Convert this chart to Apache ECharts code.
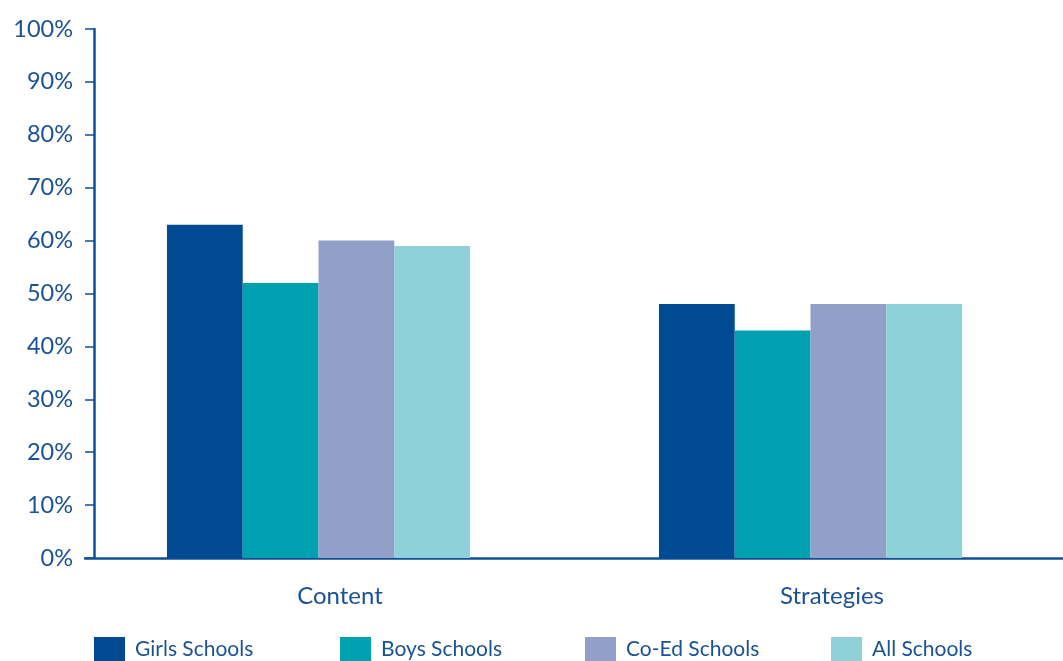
<!DOCTYPE html>
<html>
<head>
<meta charset="utf-8">
<script src="https://cdn.jsdelivr.net/npm/echarts@6/dist/echarts.min.js"></script>
<style>
  html, body { margin: 0; padding: 0; background: #ffffff; }
  #chart { width: 1063px; height: 661px; }
</style>
</head>
<body>
<div id="chart"></div>
<script>
// Share of schools, by focus area and school type
const categories = ['Content', 'Strategies'];
const seriesNames = ['Girls Schools', 'Boys Schools', 'Co-Ed Schools', 'All Schools'];
const girlsSchools = [63, 48];
const boysSchools = [52, 43];
const coEdSchools = [60, 48];
const allSchools = [59, 48];
const yTicks = [0, 10, 20, 30, 40, 50, 60, 70, 80, 90, 100];

const colors = ['#004a91', '#00a1b0', '#919fc9', '#8fd1d9'];
const ink = '#1b5294';
const axisBlue = '#0f4f95';
const font = 'Lato';

const values = [girlsSchools, boysSchools, coEdSchools, allSchools];
const legendLefts = [94, 340, 585, 831];

const chart = echarts.init(document.getElementById('chart'), null, { renderer: 'canvas' });

chart.setOption({
  animation: false,
  backgroundColor: '#ffffff',
  grid: [
    { left: 72.5, right: 6.5, top: 29, bottom: 103 },
    { left: 85, right: 0, top: 29, bottom: 103 }
  ],
  xAxis: [
    {
      type: 'category',
      gridIndex: 0,
      data: categories,
      axisLine: { show: false },
      axisTick: { show: false },
      axisLabel: {
        color: ink, fontFamily: font, fontSize: 24, margin: 26,
        padding: [0, 0, 0, 43]
      }
    },
    {
      type: 'value',
      gridIndex: 1,
      min: 0, max: 1,
      axisLine: { show: true, lineStyle: { color: axisBlue, width: 2.5 } },
      axisTick: { show: false },
      axisLabel: { show: false },
      splitLine: { show: false }
    }
  ],
  yAxis: [
    {
      type: 'value',
      gridIndex: 0,
      min: yTicks[0],
      max: yTicks[yTicks.length - 1],
      interval: 10,
      offset: -21.5,
      axisLine: { show: true, lineStyle: { color: axisBlue, width: 2.5 } },
      axisTick: { show: true, length: 9, lineStyle: { color: axisBlue, width: 1.5 } },
      axisLabel: {
        color: ink, fontFamily: font, fontSize: 23.5, margin: 21,
        formatter: v => v + '%'
      },
      splitLine: { show: false }
    },
    {
      type: 'value',
      gridIndex: 1,
      min: 0, max: 1,
      show: false
    }
  ],
  legend: seriesNames.map((name, i) => ({
    data: [name],
    left: legendLefts[i],
    top: 637,
    padding: 0,
    itemWidth: 31,
    itemHeight: 24,
    icon: 'rect',
    textStyle: { color: ink, fontFamily: font, fontSize: 21, padding: [0, 0, 0, 5] }
  })),
  series: seriesNames.map((name, i) => ({
    name: name,
    type: 'bar',
    xAxisIndex: 0,
    yAxisIndex: 0,
    data: values[i],
    barGap: '0%',
    barCategoryGap: '38.4%',
    itemStyle: { color: colors[i] }
  }))
});
</script>
</body>
</html>
